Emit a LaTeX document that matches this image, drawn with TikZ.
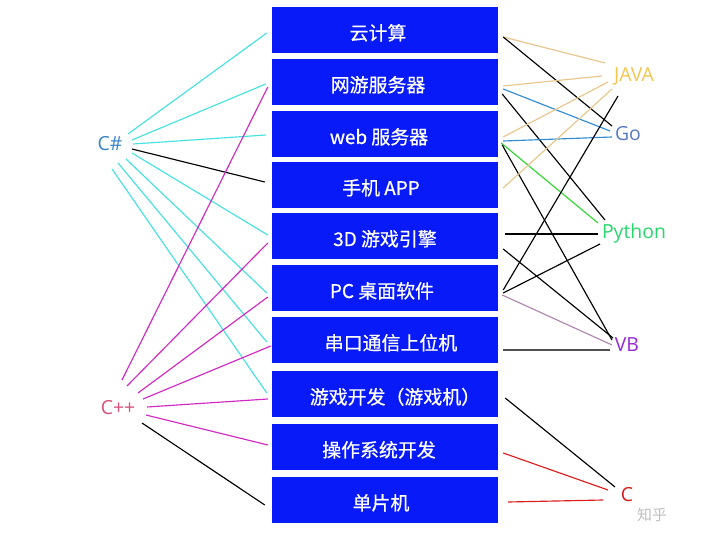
\documentclass[tikz,border=0pt]{standalone}
\usepackage{fontspec}
\setmainfont{Open Sans}
\newfontfamily\cjk[FakeBold=0.6]{Noto Sans CJK SC}
\newfontfamily\cjkwm{Noto Sans CJK SC}
\definecolor{boxblue}{RGB}{8,26,248}
\definecolor{cyanl}{RGB}{70,226,226}
\definecolor{magl}{RGB}{210,40,196}
\definecolor{tanl}{RGB}{232,198,140}
\definecolor{bluel}{RGB}{50,140,210}
\definecolor{greenl}{RGB}{50,215,50}
\definecolor{mauvel}{RGB}{175,135,175}
\definecolor{darkl}{RGB}{80,80,80}
\definecolor{redl}{RGB}{220,30,30}
\definecolor{cscol}{RGB}{58,132,200}
\definecolor{cppcol}{RGB}{214,80,122}
\definecolor{javacol}{RGB}{240,200,80}
\definecolor{gocol}{RGB}{88,120,200}
\definecolor{pycol}{RGB}{40,214,110}
\definecolor{vbcol}{RGB}{150,40,214}
\definecolor{ccol}{RGB}{214,30,30}
\begin{document}
\begin{tikzpicture}[x=1bp,y=-1bp,
  box/.style={draw=none, fill=boxblue, minimum width=226bp, minimum height=46bp, inner sep=0pt, text=white, text height=22bp, text depth=2bp, font=\cjk\fontsize{19}{21}\selectfont},
  tshift/.style={execute at begin node={\hspace*{#1}}},
  lab/.style={anchor=mid, inner sep=0pt, font=\fontsize{19.5}{21}\selectfont},
  ln/.style={line width=1.15bp},
  wm/.style={anchor=mid, inner sep=0pt, text=black!25, font=\cjkwm\fontsize{15}{16}\selectfont}]
\fill[white] (0,0) rectangle (720,540);
\useasboundingbox (0,0) rectangle (720,540);

% boxes
\node[box, tshift=-14bp] (b1) at (385,30) {云计算};
\node[box, tshift=-14bp] (b2) at (385,82) {网游服务器};
\node[box, tshift=-12bp] (b3) at (385,134) {web 服务器};
\node[box, tshift=-8bp] (b4) at (385,185) {手机 APP};
\node[box] (b5) at (385,236) {3D 游戏引擎};
\node[box, tshift=-6bp] (b6) at (385,288) {PC 桌面软件};
\node[box, tshift=12bp] (b7) at (385,340) {串口通信上位机};
\node[box, tshift=20bp] (b8) at (385,394) {游戏开发（游戏机）};
\node[box, tshift=-12bp] (b9) at (385,447) {操作系统开发};
\node[box, tshift=-8bp] (b10) at (385,500) {单片机};

% labels
\node[lab, text=cscol] (cs) at (110,148) {C\#};
\node[lab, text=cppcol] (cpp) at (118,412) {C++};
\node[lab, text=javacol] (java) at (634,79) {JAVA};
\node[lab, text=gocol] (go) at (628,138) {Go};
\node[lab, text=pycol] (py) at (634,236) {Python};
\node[lab, text=vbcol] (vb) at (627,349) {VB};
\node[lab, text=ccol] (c) at (627,499) {C};
\node[wm] (zh) at (652,518) {知乎};

% C# lines
\draw[ln,cyanl] ([shift={(18,-14)}]cs.mid) -- ([shift={(-5,3)}]b1.west);
\draw[ln,cyanl] ([shift={(22,-8)}]cs.mid) -- ([shift={(-6,2)}]b2.west);
\draw[ln,cyanl] ([shift={(23,-4)}]cs.mid) -- ([shift={(-6,1)}]b3.west);
\draw[ln,black] ([shift={(22,1)}]cs.mid) -- ([shift={(-7,-3)}]b4.west);
\draw[ln,cyanl] ([shift={(22,5)}]cs.mid) -- ([shift={(-4,-1)}]b5.west);
\draw[ln,cyanl] ([shift={(16,11)}]cs.mid) -- ([shift={(-5,5)}]b6.west);
\draw[ln,cyanl] ([shift={(8,15)}]cs.mid) -- ([shift={(-5,2)}]b7.west);
\draw[ln,cyanl] ([shift={(2,21)}]cs.mid) -- ([shift={(-5,-1)}]b8.west);

% C++ lines
\draw[ln,magl] ([shift={(4,-32)}]cpp.mid) -- ([shift={(-4,5)}]b2.west);
\draw[ln,magl] ([shift={(9,-26)}]cpp.mid) -- ([shift={(-4,7)}]b5.west);
\draw[ln,magl] ([shift={(20,-19)}]cpp.mid) -- ([shift={(-4,9)}]b6.west);
\draw[ln,magl] ([shift={(25,-13)}]cpp.mid) -- ([shift={(-1,6)}]b7.west);
\draw[ln,magl] ([shift={(29,-5)}]cpp.mid) -- ([shift={(-4,5)}]b8.west);
\draw[ln,magl] ([shift={(28,3)}]cpp.mid) -- ([shift={(-4,-2)}]b9.west);
\draw[ln,black] ([shift={(24,11)}]cpp.mid) -- ([shift={(-7,5)}]b10.west);

% right side lines
\draw[ln,tanl] ([shift={(5,7)}]b1.east) -- ([shift={(-29,-16)}]java.mid);
\draw[ln,black] ([shift={(5,7)}]b1.east) -- ([shift={(-16,-12)}]go.mid);
\draw[ln,tanl] ([shift={(5,4)}]b2.east) -- ([shift={(-32,-3)}]java.mid);
\draw[ln,bluel] ([shift={(5,7)}]b2.east) -- ([shift={(-18,-7)}]go.mid);
\draw[ln,black] ([shift={(4,12)}]b2.east) -- ([shift={(-29,-16)}]py.mid);
\draw[ln,tanl] ([shift={(5,3)}]b3.east) -- ([shift={(-26,3)}]java.mid);
\draw[ln,bluel] ([shift={(5,7)}]b3.east) -- ([shift={(-16,-1)}]go.mid);
\draw[ln,greenl] ([shift={(3,9)}]b3.east) -- ([shift={(-36,-13)}]py.mid);
\draw[ln,black] ([shift={(4,11)}]b3.east) -- ([shift={(-15,-9)}]vb.mid);
\draw[ln,tanl] ([shift={(5,3)}]b4.east) -- ([shift={(-22,10)}]java.mid);
\draw[ln,black] ([shift={(-16,17)}]java.mid) -- ([shift={(5,2)}]b6.east);
\draw[ln,black] ([shift={(7,-2)}]b5.east) -- ([shift={(-36,-2)}]py.mid);
\draw[ln,black] ([shift={(5,13)}]b5.east) -- ([shift={(-14,-11)}]vb.mid);
\draw[ln,black] ([shift={(5,5)}]b6.east) -- ([shift={(-34,8)}]py.mid);
\draw[ln,mauvel] ([shift={(4,7)}]b6.east) -- ([shift={(-15,-4)}]vb.mid);
\draw[ln,darkl] ([shift={(5,10)}]b7.east) -- ([shift={(-17,1)}]vb.mid);
\draw[ln,black] ([shift={(7,4)}]b8.east) -- ([shift={(-12,-12)}]c.mid);
\draw[ln,redl] ([shift={(5,6)}]b9.east) -- ([shift={(-19,-9)}]c.mid);
\draw[ln,redl] ([shift={(10,2)}]b10.east) -- ([shift={(-24,1)}]c.mid);
\end{tikzpicture}
\end{document}
